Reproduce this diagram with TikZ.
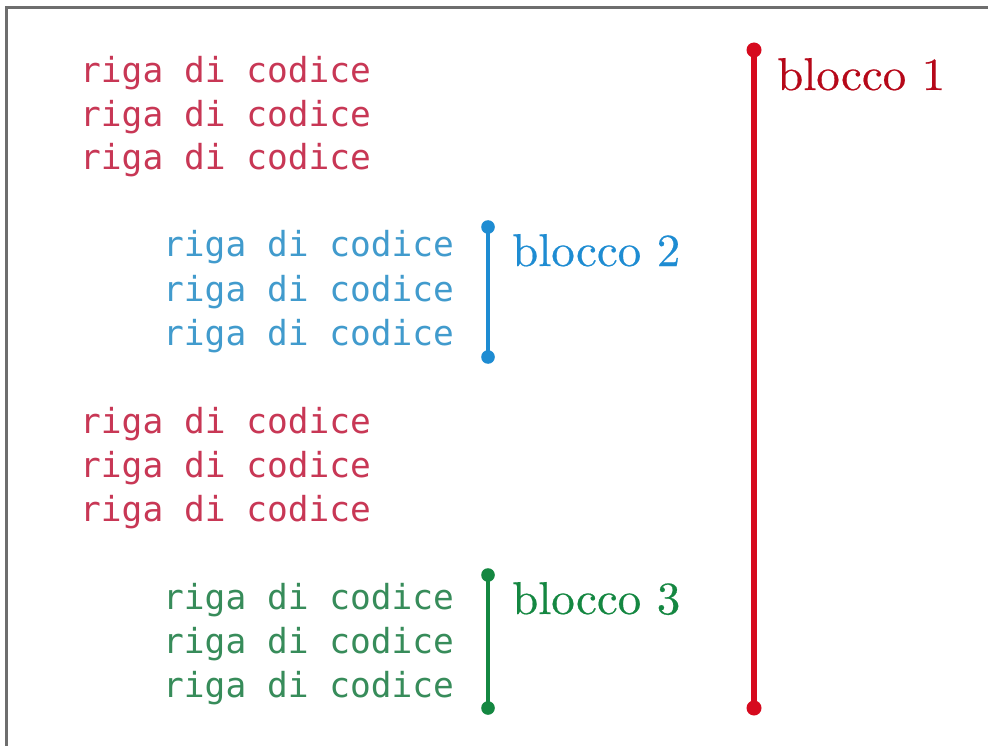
\documentclass[tikz,border=0pt]{standalone}
\usepackage{fontspec}
\newfontfamily\codefont{DejaVu Sans Mono}
\newfontfamily\labelfont{lmroman10-regular.otf}[FakeStretch=1.02, FakeBold=0.4]
\begin{document}
\begin{tikzpicture}[x=1pt,y=-1pt,
  codeline/.style={anchor=base west, inner sep=0pt, font=\codefont\fontsize{34.5}{40}\selectfont},
  blocklabel/.style={anchor=base west, inner sep=0pt, font=\labelfont\fontsize{46}{50}\selectfont},
  blockbar/.style={line width=5.5pt, line cap=round},
  innerbar/.style={line width=4.8pt, line cap=round},
  enddot/.style={radius=7.5},
  smalldot/.style={radius=6.8}
]
\definecolor{codered}{RGB}{200,55,85}
\definecolor{barred}{RGB}{214,10,30}
\definecolor{codeblue}{RGB}{65,155,205}
\definecolor{barblue}{RGB}{30,140,210}
\definecolor{codegreen}{RGB}{55,140,90}
\definecolor{bargreen}{RGB}{20,135,65}
\definecolor{framegray}{RGB}{110,110,110}

\useasboundingbox (0,0) rectangle (988,746);
\fill[white] (0,0) rectangle (988,746);

% window frame (left and top edges)
\draw[framegray, line width=3pt] (6,746) -- (6,7.5) -- (988,7.5);

% code lines
\foreach \y [count=\i] in {83,127,170}
  \node[codeline, text=codered] (ra\i) at (80,\y) {riga di codice};
\foreach \y [count=\i] in {257,301,345}
  \node[codeline, text=codeblue] (bb\i) at (163,\y) {riga di codice};
\foreach \y [count=\i] in {433,477,521}
  \node[codeline, text=codered] (rb\i) at (80,\y) {riga di codice};
\foreach \y [count=\i] in {609,653,697}
  \node[codeline, text=codegreen] (gg\i) at (163,\y) {riga di codice};

% block 1
\coordinate (t1) at (754,50);
\coordinate (e1) at (754,708);
\draw[blockbar, barred] (t1) -- (e1);
\fill[barred] (t1) circle[enddot];
\fill[barred] (e1) circle[enddot];
\node[blocklabel, text=barred!85!black] (l1) at (777,90) {blocco 1};

% block 2
\coordinate (t2) at (488,227);
\coordinate (e2) at (488,357);
\draw[innerbar, barblue] (t2) -- (e2);
\fill[barblue] (t2) circle[smalldot];
\fill[barblue] (e2) circle[smalldot];
\node[blocklabel, text=barblue] (l2) at (512,266) {blocco 2};

% block 3
\coordinate (t3) at (488,575);
\coordinate (e3) at (488,708);
\draw[innerbar, bargreen] (t3) -- (e3);
\fill[bargreen] (t3) circle[smalldot];
\fill[bargreen] (e3) circle[smalldot];
\node[blocklabel, text=bargreen] (l3) at (512,614) {blocco 3};
\end{tikzpicture}
\end{document}
